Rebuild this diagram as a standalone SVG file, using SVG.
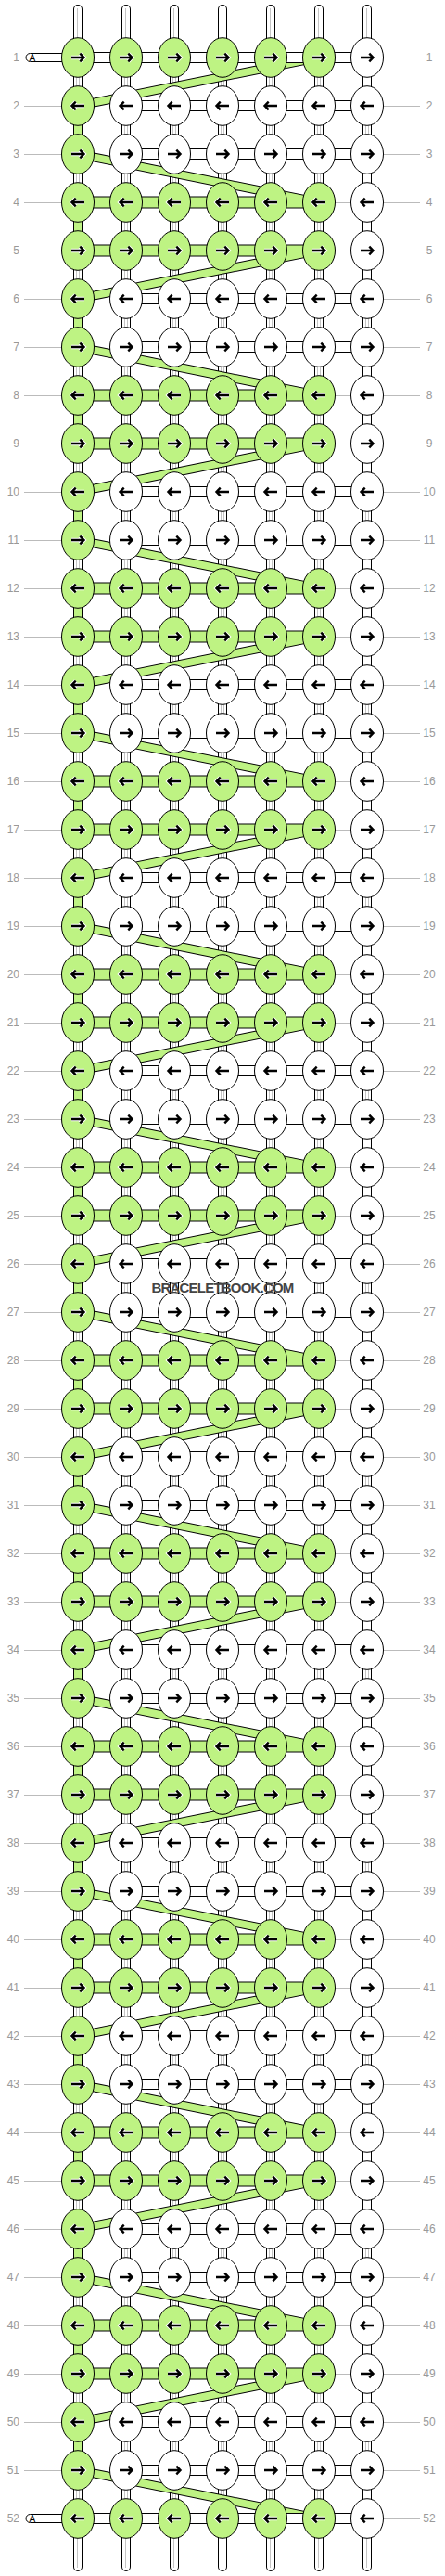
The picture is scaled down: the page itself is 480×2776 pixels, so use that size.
<svg xmlns="http://www.w3.org/2000/svg" xmlns:xlink="http://www.w3.org/1999/xlink" width="480" height="2776" viewBox="0 0 480 2776">
<style>
text{font-family:"Liberation Sans",Arial,sans-serif}
.ll{font-size:12px;fill:#999;text-anchor:end}
.lr{font-size:12px;fill:#999;text-anchor:middle}
.gl{stroke:#bbb;stroke-width:1;fill:none}
ellipse{rx:17.5px;ry:21.3px;stroke:#000;stroke-width:1}
.g{fill:#bef383}
.w{fill:#fff}
.ah{fill:none;stroke:#fff;stroke-width:4.4}
.ab{fill:none;stroke:#000;stroke-width:2.4}
.tb{stroke:#000;stroke-width:10;stroke-linecap:round}
.tw{stroke:#fff;stroke-width:8;stroke-linecap:round}
.dl{stroke:#c4c4c4;stroke-width:1;fill:none}
.hc{fill:#fff;stroke:#000;stroke-width:1}
.gb{stroke:#000;stroke-width:10;stroke-dasharray:24 80}
.gf{stroke:#bef383;stroke-width:8;stroke-dasharray:24 80}
.wm{font-size:15px;font-weight:bold;fill:#444;text-anchor:middle;letter-spacing:-0.8px}
.at{font-size:10px;fill:#000}
</style>
<defs>
<path id="ap" d="M-7,0H6M2.3,-4.3L6.5,0L2.3,4.3"/>
<g id="R"><use href="#ap" class="ah"/><use href="#ap" class="ab"/></g>
<g id="L" transform="scale(-1,1)"><use href="#ap" class="ah"/><use href="#ap" class="ab"/></g>
<polygon id="b1" points="344,-4 344,4 84,56 84,48"/>
<polygon id="b2" points="84,-4 84,4 344,56 344,48"/>
<rect id="gr" x="84" y="-5.5" width="260" height="11"/>
<g id="GS">
<use href="#b1" y="62"/><use href="#b1" y="270"/><use href="#b1" y="478"/><use href="#b1" y="686"/><use href="#b1" y="894"/><use href="#b1" y="1102"/><use href="#b1" y="1310"/><use href="#b1" y="1518"/><use href="#b1" y="1726"/><use href="#b1" y="1934"/><use href="#b1" y="2142"/><use href="#b1" y="2350"/><use href="#b1" y="2558"/>
<use href="#b2" y="166"/><use href="#b2" y="374"/><use href="#b2" y="582"/><use href="#b2" y="790"/><use href="#b2" y="998"/><use href="#b2" y="1206"/><use href="#b2" y="1414"/><use href="#b2" y="1622"/><use href="#b2" y="1830"/><use href="#b2" y="2038"/><use href="#b2" y="2246"/><use href="#b2" y="2454"/><use href="#b2" y="2662"/>
<use href="#gr" y="218"/><use href="#gr" y="270"/><use href="#gr" y="426"/><use href="#gr" y="478"/><use href="#gr" y="634"/><use href="#gr" y="686"/><use href="#gr" y="842"/><use href="#gr" y="894"/><use href="#gr" y="1050"/><use href="#gr" y="1102"/><use href="#gr" y="1258"/><use href="#gr" y="1310"/><use href="#gr" y="1466"/><use href="#gr" y="1518"/><use href="#gr" y="1674"/><use href="#gr" y="1726"/><use href="#gr" y="1882"/><use href="#gr" y="1934"/><use href="#gr" y="2090"/><use href="#gr" y="2142"/><use href="#gr" y="2298"/><use href="#gr" y="2350"/><use href="#gr" y="2506"/><use href="#gr" y="2558"/>
</g>
</defs>
<rect width="480" height="2776" fill="#fff"/>
<g id="connectors">
<g id="threads">
<line class="tb" x1="84" y1="10" x2="84" y2="2766"/><line class="tw" x1="84" y1="10" x2="84" y2="2766"/>
<line class="tb" x1="136" y1="10" x2="136" y2="2766"/><line class="tw" x1="136" y1="10" x2="136" y2="2766"/>
<line class="tb" x1="188" y1="10" x2="188" y2="2766"/><line class="tw" x1="188" y1="10" x2="188" y2="2766"/>
<line class="tb" x1="240" y1="10" x2="240" y2="2766"/><line class="tw" x1="240" y1="10" x2="240" y2="2766"/>
<line class="tb" x1="292" y1="10" x2="292" y2="2766"/><line class="tw" x1="292" y1="10" x2="292" y2="2766"/>
<line class="tb" x1="344" y1="10" x2="344" y2="2766"/><line class="tw" x1="344" y1="10" x2="344" y2="2766"/>
<line class="tb" x1="396" y1="10" x2="396" y2="2766"/><line class="tw" x1="396" y1="10" x2="396" y2="2766"/>
<path class="dl" d="M83.5,9V42M83.5,2734V2767M135.5,9V42M135.5,2734V2767M187.5,9V42M187.5,2734V2767M239.5,9V42M239.5,2734V2767M291.5,9V42M291.5,2734V2767M343.5,9V42M343.5,2734V2767M395.5,9V42M395.5,2734V2767"/>
<path class="dl" d="M134.5,44V2732M137.5,44V2732M186.5,44V2732M189.5,44V2732M238.5,44V2732M241.5,44V2732M290.5,44V2732M293.5,44V2732M342.5,44V2732M345.5,44V2732"/>
<path class="dl" stroke-dasharray="24 80" d="M82.5,76V2700"/>
<path class="dl" stroke-dasharray="24 80" d="M85.5,76V2700"/>
<path class="dl" stroke-dasharray="24 184" d="M394.5,128V2648"/>
<path class="dl" stroke-dasharray="24 184" d="M397.5,128V2648"/>
<line class="gb" x1="84" y1="128" x2="84" y2="2648"/>
<line class="gf" x1="84" y1="128" x2="84" y2="2648"/>
</g>
<g id="stubA">
<path class="hc" d="M70,57.5H32.5a4.5,4.5 0 0 0 0,9H70z"/>
<path class="hc" d="M70,2709.5H32.5a4.5,4.5 0 0 0 0,9H70z"/>
<text class="at" x="31.5" y="66">A</text>
<text class="at" x="31.5" y="2718">A</text>
</g>
<g id="green">
<use href="#GS" fill="#000" stroke="#000" stroke-width="2"/>
<use href="#GS" class="g"/>
</g>
<g id="hconn">
<rect class="hc" x="84" y="56.5" width="312" height="11"/>
<rect class="hc" x="84" y="2708.5" width="312" height="11"/>
<rect class="hc" x="136" y="108.5" width="260" height="11"/><rect class="hc" x="136" y="160.5" width="260" height="11"/>
<rect class="hc" x="136" y="316.5" width="260" height="11"/><rect class="hc" x="136" y="368.5" width="260" height="11"/>
<rect class="hc" x="136" y="524.5" width="260" height="11"/><rect class="hc" x="136" y="576.5" width="260" height="11"/>
<rect class="hc" x="136" y="732.5" width="260" height="11"/><rect class="hc" x="136" y="784.5" width="260" height="11"/>
<rect class="hc" x="136" y="940.5" width="260" height="11"/><rect class="hc" x="136" y="992.5" width="260" height="11"/>
<rect class="hc" x="136" y="1148.5" width="260" height="11"/><rect class="hc" x="136" y="1200.5" width="260" height="11"/>
<rect class="hc" x="136" y="1356.5" width="260" height="11"/><rect class="hc" x="136" y="1408.5" width="260" height="11"/>
<rect class="hc" x="136" y="1564.5" width="260" height="11"/><rect class="hc" x="136" y="1616.5" width="260" height="11"/>
<rect class="hc" x="136" y="1772.5" width="260" height="11"/><rect class="hc" x="136" y="1824.5" width="260" height="11"/>
<rect class="hc" x="136" y="1980.5" width="260" height="11"/><rect class="hc" x="136" y="2032.5" width="260" height="11"/>
<rect class="hc" x="136" y="2188.5" width="260" height="11"/><rect class="hc" x="136" y="2240.5" width="260" height="11"/>
<rect class="hc" x="136" y="2396.5" width="260" height="11"/><rect class="hc" x="136" y="2448.5" width="260" height="11"/>
<rect class="hc" x="136" y="2604.5" width="260" height="11"/><rect class="hc" x="136" y="2656.5" width="260" height="11"/>
</g>
</g>
<g id="nodes">
<g id="r1" transform="translate(0,62)"><path class="gl" d="M414,.5h39"/><text class="ll" x="21" y="4">1</text><text class="lr" x="463" y="4">1</text>
<g id="k1-1"><ellipse class="g" cx="84"/><use href="#R" x="84"/></g><g id="k1-2"><ellipse class="g" cx="136"/><use href="#R" x="136"/></g><g id="k1-3"><ellipse class="g" cx="188"/><use href="#R" x="188"/></g><g id="k1-4"><ellipse class="g" cx="240"/><use href="#R" x="240"/></g><g id="k1-5"><ellipse class="g" cx="292"/><use href="#R" x="292"/></g><g id="k1-6"><ellipse class="g" cx="344"/><use href="#R" x="344"/></g><g id="k1-7"><ellipse class="w" cx="396"/><use href="#R" x="396"/></g></g>
<g id="r2" transform="translate(0,114)"><path class="gl" d="M26,.5h40M414,.5h39"/><text class="ll" x="21" y="4">2</text><text class="lr" x="463" y="4">2</text>
<g id="k2-1"><ellipse class="g" cx="84"/><use href="#L" x="84"/></g><g id="k2-2"><ellipse class="w" cx="136"/><use href="#L" x="136"/></g><g id="k2-3"><ellipse class="w" cx="188"/><use href="#L" x="188"/></g><g id="k2-4"><ellipse class="w" cx="240"/><use href="#L" x="240"/></g><g id="k2-5"><ellipse class="w" cx="292"/><use href="#L" x="292"/></g><g id="k2-6"><ellipse class="w" cx="344"/><use href="#L" x="344"/></g><g id="k2-7"><ellipse class="w" cx="396"/><use href="#L" x="396"/></g></g>
<g id="r3" transform="translate(0,166)"><path class="gl" d="M26,.5h40M414,.5h39"/><text class="ll" x="21" y="4">3</text><text class="lr" x="463" y="4">3</text>
<g id="k3-1"><ellipse class="g" cx="84"/><use href="#R" x="84"/></g><g id="k3-2"><ellipse class="w" cx="136"/><use href="#R" x="136"/></g><g id="k3-3"><ellipse class="w" cx="188"/><use href="#R" x="188"/></g><g id="k3-4"><ellipse class="w" cx="240"/><use href="#R" x="240"/></g><g id="k3-5"><ellipse class="w" cx="292"/><use href="#R" x="292"/></g><g id="k3-6"><ellipse class="w" cx="344"/><use href="#R" x="344"/></g><g id="k3-7"><ellipse class="w" cx="396"/><use href="#R" x="396"/></g></g>
<g id="r4" transform="translate(0,218)"><path class="gl" d="M26,.5h40M361,.5h18M414,.5h39"/><text class="ll" x="21" y="4">4</text><text class="lr" x="463" y="4">4</text>
<g id="k4-1"><ellipse class="g" cx="84"/><use href="#L" x="84"/></g><g id="k4-2"><ellipse class="g" cx="136"/><use href="#L" x="136"/></g><g id="k4-3"><ellipse class="g" cx="188"/><use href="#L" x="188"/></g><g id="k4-4"><ellipse class="g" cx="240"/><use href="#L" x="240"/></g><g id="k4-5"><ellipse class="g" cx="292"/><use href="#L" x="292"/></g><g id="k4-6"><ellipse class="g" cx="344"/><use href="#L" x="344"/></g><g id="k4-7"><ellipse class="w" cx="396"/><use href="#L" x="396"/></g></g>
<g id="r5" transform="translate(0,270)"><path class="gl" d="M26,.5h40M361,.5h18M414,.5h39"/><text class="ll" x="21" y="4">5</text><text class="lr" x="463" y="4">5</text>
<g id="k5-1"><ellipse class="g" cx="84"/><use href="#R" x="84"/></g><g id="k5-2"><ellipse class="g" cx="136"/><use href="#R" x="136"/></g><g id="k5-3"><ellipse class="g" cx="188"/><use href="#R" x="188"/></g><g id="k5-4"><ellipse class="g" cx="240"/><use href="#R" x="240"/></g><g id="k5-5"><ellipse class="g" cx="292"/><use href="#R" x="292"/></g><g id="k5-6"><ellipse class="g" cx="344"/><use href="#R" x="344"/></g><g id="k5-7"><ellipse class="w" cx="396"/><use href="#R" x="396"/></g></g>
<g id="r6" transform="translate(0,322)"><path class="gl" d="M26,.5h40M414,.5h39"/><text class="ll" x="21" y="4">6</text><text class="lr" x="463" y="4">6</text>
<g id="k6-1"><ellipse class="g" cx="84"/><use href="#L" x="84"/></g><g id="k6-2"><ellipse class="w" cx="136"/><use href="#L" x="136"/></g><g id="k6-3"><ellipse class="w" cx="188"/><use href="#L" x="188"/></g><g id="k6-4"><ellipse class="w" cx="240"/><use href="#L" x="240"/></g><g id="k6-5"><ellipse class="w" cx="292"/><use href="#L" x="292"/></g><g id="k6-6"><ellipse class="w" cx="344"/><use href="#L" x="344"/></g><g id="k6-7"><ellipse class="w" cx="396"/><use href="#L" x="396"/></g></g>
<g id="r7" transform="translate(0,374)"><path class="gl" d="M26,.5h40M414,.5h39"/><text class="ll" x="21" y="4">7</text><text class="lr" x="463" y="4">7</text>
<g id="k7-1"><ellipse class="g" cx="84"/><use href="#R" x="84"/></g><g id="k7-2"><ellipse class="w" cx="136"/><use href="#R" x="136"/></g><g id="k7-3"><ellipse class="w" cx="188"/><use href="#R" x="188"/></g><g id="k7-4"><ellipse class="w" cx="240"/><use href="#R" x="240"/></g><g id="k7-5"><ellipse class="w" cx="292"/><use href="#R" x="292"/></g><g id="k7-6"><ellipse class="w" cx="344"/><use href="#R" x="344"/></g><g id="k7-7"><ellipse class="w" cx="396"/><use href="#R" x="396"/></g></g>
<g id="r8" transform="translate(0,426)"><path class="gl" d="M26,.5h40M361,.5h18M414,.5h39"/><text class="ll" x="21" y="4">8</text><text class="lr" x="463" y="4">8</text>
<g id="k8-1"><ellipse class="g" cx="84"/><use href="#L" x="84"/></g><g id="k8-2"><ellipse class="g" cx="136"/><use href="#L" x="136"/></g><g id="k8-3"><ellipse class="g" cx="188"/><use href="#L" x="188"/></g><g id="k8-4"><ellipse class="g" cx="240"/><use href="#L" x="240"/></g><g id="k8-5"><ellipse class="g" cx="292"/><use href="#L" x="292"/></g><g id="k8-6"><ellipse class="g" cx="344"/><use href="#L" x="344"/></g><g id="k8-7"><ellipse class="w" cx="396"/><use href="#L" x="396"/></g></g>
<g id="r9" transform="translate(0,478)"><path class="gl" d="M26,.5h40M361,.5h18M414,.5h39"/><text class="ll" x="21" y="4">9</text><text class="lr" x="463" y="4">9</text>
<g id="k9-1"><ellipse class="g" cx="84"/><use href="#R" x="84"/></g><g id="k9-2"><ellipse class="g" cx="136"/><use href="#R" x="136"/></g><g id="k9-3"><ellipse class="g" cx="188"/><use href="#R" x="188"/></g><g id="k9-4"><ellipse class="g" cx="240"/><use href="#R" x="240"/></g><g id="k9-5"><ellipse class="g" cx="292"/><use href="#R" x="292"/></g><g id="k9-6"><ellipse class="g" cx="344"/><use href="#R" x="344"/></g><g id="k9-7"><ellipse class="w" cx="396"/><use href="#R" x="396"/></g></g>
<g id="r10" transform="translate(0,530)"><path class="gl" d="M26,.5h40M414,.5h39"/><text class="ll" x="21" y="4">10</text><text class="lr" x="463" y="4">10</text>
<g id="k10-1"><ellipse class="g" cx="84"/><use href="#L" x="84"/></g><g id="k10-2"><ellipse class="w" cx="136"/><use href="#L" x="136"/></g><g id="k10-3"><ellipse class="w" cx="188"/><use href="#L" x="188"/></g><g id="k10-4"><ellipse class="w" cx="240"/><use href="#L" x="240"/></g><g id="k10-5"><ellipse class="w" cx="292"/><use href="#L" x="292"/></g><g id="k10-6"><ellipse class="w" cx="344"/><use href="#L" x="344"/></g><g id="k10-7"><ellipse class="w" cx="396"/><use href="#L" x="396"/></g></g>
<g id="r11" transform="translate(0,582)"><path class="gl" d="M26,.5h40M414,.5h39"/><text class="ll" x="21" y="4">11</text><text class="lr" x="463" y="4">11</text>
<g id="k11-1"><ellipse class="g" cx="84"/><use href="#R" x="84"/></g><g id="k11-2"><ellipse class="w" cx="136"/><use href="#R" x="136"/></g><g id="k11-3"><ellipse class="w" cx="188"/><use href="#R" x="188"/></g><g id="k11-4"><ellipse class="w" cx="240"/><use href="#R" x="240"/></g><g id="k11-5"><ellipse class="w" cx="292"/><use href="#R" x="292"/></g><g id="k11-6"><ellipse class="w" cx="344"/><use href="#R" x="344"/></g><g id="k11-7"><ellipse class="w" cx="396"/><use href="#R" x="396"/></g></g>
<g id="r12" transform="translate(0,634)"><path class="gl" d="M26,.5h40M361,.5h18M414,.5h39"/><text class="ll" x="21" y="4">12</text><text class="lr" x="463" y="4">12</text>
<g id="k12-1"><ellipse class="g" cx="84"/><use href="#L" x="84"/></g><g id="k12-2"><ellipse class="g" cx="136"/><use href="#L" x="136"/></g><g id="k12-3"><ellipse class="g" cx="188"/><use href="#L" x="188"/></g><g id="k12-4"><ellipse class="g" cx="240"/><use href="#L" x="240"/></g><g id="k12-5"><ellipse class="g" cx="292"/><use href="#L" x="292"/></g><g id="k12-6"><ellipse class="g" cx="344"/><use href="#L" x="344"/></g><g id="k12-7"><ellipse class="w" cx="396"/><use href="#L" x="396"/></g></g>
<g id="r13" transform="translate(0,686)"><path class="gl" d="M26,.5h40M361,.5h18M414,.5h39"/><text class="ll" x="21" y="4">13</text><text class="lr" x="463" y="4">13</text>
<g id="k13-1"><ellipse class="g" cx="84"/><use href="#R" x="84"/></g><g id="k13-2"><ellipse class="g" cx="136"/><use href="#R" x="136"/></g><g id="k13-3"><ellipse class="g" cx="188"/><use href="#R" x="188"/></g><g id="k13-4"><ellipse class="g" cx="240"/><use href="#R" x="240"/></g><g id="k13-5"><ellipse class="g" cx="292"/><use href="#R" x="292"/></g><g id="k13-6"><ellipse class="g" cx="344"/><use href="#R" x="344"/></g><g id="k13-7"><ellipse class="w" cx="396"/><use href="#R" x="396"/></g></g>
<g id="r14" transform="translate(0,738)"><path class="gl" d="M26,.5h40M414,.5h39"/><text class="ll" x="21" y="4">14</text><text class="lr" x="463" y="4">14</text>
<g id="k14-1"><ellipse class="g" cx="84"/><use href="#L" x="84"/></g><g id="k14-2"><ellipse class="w" cx="136"/><use href="#L" x="136"/></g><g id="k14-3"><ellipse class="w" cx="188"/><use href="#L" x="188"/></g><g id="k14-4"><ellipse class="w" cx="240"/><use href="#L" x="240"/></g><g id="k14-5"><ellipse class="w" cx="292"/><use href="#L" x="292"/></g><g id="k14-6"><ellipse class="w" cx="344"/><use href="#L" x="344"/></g><g id="k14-7"><ellipse class="w" cx="396"/><use href="#L" x="396"/></g></g>
<g id="r15" transform="translate(0,790)"><path class="gl" d="M26,.5h40M414,.5h39"/><text class="ll" x="21" y="4">15</text><text class="lr" x="463" y="4">15</text>
<g id="k15-1"><ellipse class="g" cx="84"/><use href="#R" x="84"/></g><g id="k15-2"><ellipse class="w" cx="136"/><use href="#R" x="136"/></g><g id="k15-3"><ellipse class="w" cx="188"/><use href="#R" x="188"/></g><g id="k15-4"><ellipse class="w" cx="240"/><use href="#R" x="240"/></g><g id="k15-5"><ellipse class="w" cx="292"/><use href="#R" x="292"/></g><g id="k15-6"><ellipse class="w" cx="344"/><use href="#R" x="344"/></g><g id="k15-7"><ellipse class="w" cx="396"/><use href="#R" x="396"/></g></g>
<g id="r16" transform="translate(0,842)"><path class="gl" d="M26,.5h40M361,.5h18M414,.5h39"/><text class="ll" x="21" y="4">16</text><text class="lr" x="463" y="4">16</text>
<g id="k16-1"><ellipse class="g" cx="84"/><use href="#L" x="84"/></g><g id="k16-2"><ellipse class="g" cx="136"/><use href="#L" x="136"/></g><g id="k16-3"><ellipse class="g" cx="188"/><use href="#L" x="188"/></g><g id="k16-4"><ellipse class="g" cx="240"/><use href="#L" x="240"/></g><g id="k16-5"><ellipse class="g" cx="292"/><use href="#L" x="292"/></g><g id="k16-6"><ellipse class="g" cx="344"/><use href="#L" x="344"/></g><g id="k16-7"><ellipse class="w" cx="396"/><use href="#L" x="396"/></g></g>
<g id="r17" transform="translate(0,894)"><path class="gl" d="M26,.5h40M361,.5h18M414,.5h39"/><text class="ll" x="21" y="4">17</text><text class="lr" x="463" y="4">17</text>
<g id="k17-1"><ellipse class="g" cx="84"/><use href="#R" x="84"/></g><g id="k17-2"><ellipse class="g" cx="136"/><use href="#R" x="136"/></g><g id="k17-3"><ellipse class="g" cx="188"/><use href="#R" x="188"/></g><g id="k17-4"><ellipse class="g" cx="240"/><use href="#R" x="240"/></g><g id="k17-5"><ellipse class="g" cx="292"/><use href="#R" x="292"/></g><g id="k17-6"><ellipse class="g" cx="344"/><use href="#R" x="344"/></g><g id="k17-7"><ellipse class="w" cx="396"/><use href="#R" x="396"/></g></g>
<g id="r18" transform="translate(0,946)"><path class="gl" d="M26,.5h40M414,.5h39"/><text class="ll" x="21" y="4">18</text><text class="lr" x="463" y="4">18</text>
<g id="k18-1"><ellipse class="g" cx="84"/><use href="#L" x="84"/></g><g id="k18-2"><ellipse class="w" cx="136"/><use href="#L" x="136"/></g><g id="k18-3"><ellipse class="w" cx="188"/><use href="#L" x="188"/></g><g id="k18-4"><ellipse class="w" cx="240"/><use href="#L" x="240"/></g><g id="k18-5"><ellipse class="w" cx="292"/><use href="#L" x="292"/></g><g id="k18-6"><ellipse class="w" cx="344"/><use href="#L" x="344"/></g><g id="k18-7"><ellipse class="w" cx="396"/><use href="#L" x="396"/></g></g>
<g id="r19" transform="translate(0,998)"><path class="gl" d="M26,.5h40M414,.5h39"/><text class="ll" x="21" y="4">19</text><text class="lr" x="463" y="4">19</text>
<g id="k19-1"><ellipse class="g" cx="84"/><use href="#R" x="84"/></g><g id="k19-2"><ellipse class="w" cx="136"/><use href="#R" x="136"/></g><g id="k19-3"><ellipse class="w" cx="188"/><use href="#R" x="188"/></g><g id="k19-4"><ellipse class="w" cx="240"/><use href="#R" x="240"/></g><g id="k19-5"><ellipse class="w" cx="292"/><use href="#R" x="292"/></g><g id="k19-6"><ellipse class="w" cx="344"/><use href="#R" x="344"/></g><g id="k19-7"><ellipse class="w" cx="396"/><use href="#R" x="396"/></g></g>
<g id="r20" transform="translate(0,1050)"><path class="gl" d="M26,.5h40M361,.5h18M414,.5h39"/><text class="ll" x="21" y="4">20</text><text class="lr" x="463" y="4">20</text>
<g id="k20-1"><ellipse class="g" cx="84"/><use href="#L" x="84"/></g><g id="k20-2"><ellipse class="g" cx="136"/><use href="#L" x="136"/></g><g id="k20-3"><ellipse class="g" cx="188"/><use href="#L" x="188"/></g><g id="k20-4"><ellipse class="g" cx="240"/><use href="#L" x="240"/></g><g id="k20-5"><ellipse class="g" cx="292"/><use href="#L" x="292"/></g><g id="k20-6"><ellipse class="g" cx="344"/><use href="#L" x="344"/></g><g id="k20-7"><ellipse class="w" cx="396"/><use href="#L" x="396"/></g></g>
<g id="r21" transform="translate(0,1102)"><path class="gl" d="M26,.5h40M361,.5h18M414,.5h39"/><text class="ll" x="21" y="4">21</text><text class="lr" x="463" y="4">21</text>
<g id="k21-1"><ellipse class="g" cx="84"/><use href="#R" x="84"/></g><g id="k21-2"><ellipse class="g" cx="136"/><use href="#R" x="136"/></g><g id="k21-3"><ellipse class="g" cx="188"/><use href="#R" x="188"/></g><g id="k21-4"><ellipse class="g" cx="240"/><use href="#R" x="240"/></g><g id="k21-5"><ellipse class="g" cx="292"/><use href="#R" x="292"/></g><g id="k21-6"><ellipse class="g" cx="344"/><use href="#R" x="344"/></g><g id="k21-7"><ellipse class="w" cx="396"/><use href="#R" x="396"/></g></g>
<g id="r22" transform="translate(0,1154)"><path class="gl" d="M26,.5h40M414,.5h39"/><text class="ll" x="21" y="4">22</text><text class="lr" x="463" y="4">22</text>
<g id="k22-1"><ellipse class="g" cx="84"/><use href="#L" x="84"/></g><g id="k22-2"><ellipse class="w" cx="136"/><use href="#L" x="136"/></g><g id="k22-3"><ellipse class="w" cx="188"/><use href="#L" x="188"/></g><g id="k22-4"><ellipse class="w" cx="240"/><use href="#L" x="240"/></g><g id="k22-5"><ellipse class="w" cx="292"/><use href="#L" x="292"/></g><g id="k22-6"><ellipse class="w" cx="344"/><use href="#L" x="344"/></g><g id="k22-7"><ellipse class="w" cx="396"/><use href="#L" x="396"/></g></g>
<g id="r23" transform="translate(0,1206)"><path class="gl" d="M26,.5h40M414,.5h39"/><text class="ll" x="21" y="4">23</text><text class="lr" x="463" y="4">23</text>
<g id="k23-1"><ellipse class="g" cx="84"/><use href="#R" x="84"/></g><g id="k23-2"><ellipse class="w" cx="136"/><use href="#R" x="136"/></g><g id="k23-3"><ellipse class="w" cx="188"/><use href="#R" x="188"/></g><g id="k23-4"><ellipse class="w" cx="240"/><use href="#R" x="240"/></g><g id="k23-5"><ellipse class="w" cx="292"/><use href="#R" x="292"/></g><g id="k23-6"><ellipse class="w" cx="344"/><use href="#R" x="344"/></g><g id="k23-7"><ellipse class="w" cx="396"/><use href="#R" x="396"/></g></g>
<g id="r24" transform="translate(0,1258)"><path class="gl" d="M26,.5h40M361,.5h18M414,.5h39"/><text class="ll" x="21" y="4">24</text><text class="lr" x="463" y="4">24</text>
<g id="k24-1"><ellipse class="g" cx="84"/><use href="#L" x="84"/></g><g id="k24-2"><ellipse class="g" cx="136"/><use href="#L" x="136"/></g><g id="k24-3"><ellipse class="g" cx="188"/><use href="#L" x="188"/></g><g id="k24-4"><ellipse class="g" cx="240"/><use href="#L" x="240"/></g><g id="k24-5"><ellipse class="g" cx="292"/><use href="#L" x="292"/></g><g id="k24-6"><ellipse class="g" cx="344"/><use href="#L" x="344"/></g><g id="k24-7"><ellipse class="w" cx="396"/><use href="#L" x="396"/></g></g>
<g id="r25" transform="translate(0,1310)"><path class="gl" d="M26,.5h40M361,.5h18M414,.5h39"/><text class="ll" x="21" y="4">25</text><text class="lr" x="463" y="4">25</text>
<g id="k25-1"><ellipse class="g" cx="84"/><use href="#R" x="84"/></g><g id="k25-2"><ellipse class="g" cx="136"/><use href="#R" x="136"/></g><g id="k25-3"><ellipse class="g" cx="188"/><use href="#R" x="188"/></g><g id="k25-4"><ellipse class="g" cx="240"/><use href="#R" x="240"/></g><g id="k25-5"><ellipse class="g" cx="292"/><use href="#R" x="292"/></g><g id="k25-6"><ellipse class="g" cx="344"/><use href="#R" x="344"/></g><g id="k25-7"><ellipse class="w" cx="396"/><use href="#R" x="396"/></g></g>
<g id="r26" transform="translate(0,1362)"><path class="gl" d="M26,.5h40M414,.5h39"/><text class="ll" x="21" y="4">26</text><text class="lr" x="463" y="4">26</text>
<g id="k26-1"><ellipse class="g" cx="84"/><use href="#L" x="84"/></g><g id="k26-2"><ellipse class="w" cx="136"/><use href="#L" x="136"/></g><g id="k26-3"><ellipse class="w" cx="188"/><use href="#L" x="188"/></g><g id="k26-4"><ellipse class="w" cx="240"/><use href="#L" x="240"/></g><g id="k26-5"><ellipse class="w" cx="292"/><use href="#L" x="292"/></g><g id="k26-6"><ellipse class="w" cx="344"/><use href="#L" x="344"/></g><g id="k26-7"><ellipse class="w" cx="396"/><use href="#L" x="396"/></g></g>
<g id="r27" transform="translate(0,1414)"><path class="gl" d="M26,.5h40M414,.5h39"/><text class="ll" x="21" y="4">27</text><text class="lr" x="463" y="4">27</text>
<g id="k27-1"><ellipse class="g" cx="84"/><use href="#R" x="84"/></g><g id="k27-2"><ellipse class="w" cx="136"/><use href="#R" x="136"/></g><g id="k27-3"><ellipse class="w" cx="188"/><use href="#R" x="188"/></g><g id="k27-4"><ellipse class="w" cx="240"/><use href="#R" x="240"/></g><g id="k27-5"><ellipse class="w" cx="292"/><use href="#R" x="292"/></g><g id="k27-6"><ellipse class="w" cx="344"/><use href="#R" x="344"/></g><g id="k27-7"><ellipse class="w" cx="396"/><use href="#R" x="396"/></g></g>
<g id="r28" transform="translate(0,1466)"><path class="gl" d="M26,.5h40M361,.5h18M414,.5h39"/><text class="ll" x="21" y="4">28</text><text class="lr" x="463" y="4">28</text>
<g id="k28-1"><ellipse class="g" cx="84"/><use href="#L" x="84"/></g><g id="k28-2"><ellipse class="g" cx="136"/><use href="#L" x="136"/></g><g id="k28-3"><ellipse class="g" cx="188"/><use href="#L" x="188"/></g><g id="k28-4"><ellipse class="g" cx="240"/><use href="#L" x="240"/></g><g id="k28-5"><ellipse class="g" cx="292"/><use href="#L" x="292"/></g><g id="k28-6"><ellipse class="g" cx="344"/><use href="#L" x="344"/></g><g id="k28-7"><ellipse class="w" cx="396"/><use href="#L" x="396"/></g></g>
<g id="r29" transform="translate(0,1518)"><path class="gl" d="M26,.5h40M361,.5h18M414,.5h39"/><text class="ll" x="21" y="4">29</text><text class="lr" x="463" y="4">29</text>
<g id="k29-1"><ellipse class="g" cx="84"/><use href="#R" x="84"/></g><g id="k29-2"><ellipse class="g" cx="136"/><use href="#R" x="136"/></g><g id="k29-3"><ellipse class="g" cx="188"/><use href="#R" x="188"/></g><g id="k29-4"><ellipse class="g" cx="240"/><use href="#R" x="240"/></g><g id="k29-5"><ellipse class="g" cx="292"/><use href="#R" x="292"/></g><g id="k29-6"><ellipse class="g" cx="344"/><use href="#R" x="344"/></g><g id="k29-7"><ellipse class="w" cx="396"/><use href="#R" x="396"/></g></g>
<g id="r30" transform="translate(0,1570)"><path class="gl" d="M26,.5h40M414,.5h39"/><text class="ll" x="21" y="4">30</text><text class="lr" x="463" y="4">30</text>
<g id="k30-1"><ellipse class="g" cx="84"/><use href="#L" x="84"/></g><g id="k30-2"><ellipse class="w" cx="136"/><use href="#L" x="136"/></g><g id="k30-3"><ellipse class="w" cx="188"/><use href="#L" x="188"/></g><g id="k30-4"><ellipse class="w" cx="240"/><use href="#L" x="240"/></g><g id="k30-5"><ellipse class="w" cx="292"/><use href="#L" x="292"/></g><g id="k30-6"><ellipse class="w" cx="344"/><use href="#L" x="344"/></g><g id="k30-7"><ellipse class="w" cx="396"/><use href="#L" x="396"/></g></g>
<g id="r31" transform="translate(0,1622)"><path class="gl" d="M26,.5h40M414,.5h39"/><text class="ll" x="21" y="4">31</text><text class="lr" x="463" y="4">31</text>
<g id="k31-1"><ellipse class="g" cx="84"/><use href="#R" x="84"/></g><g id="k31-2"><ellipse class="w" cx="136"/><use href="#R" x="136"/></g><g id="k31-3"><ellipse class="w" cx="188"/><use href="#R" x="188"/></g><g id="k31-4"><ellipse class="w" cx="240"/><use href="#R" x="240"/></g><g id="k31-5"><ellipse class="w" cx="292"/><use href="#R" x="292"/></g><g id="k31-6"><ellipse class="w" cx="344"/><use href="#R" x="344"/></g><g id="k31-7"><ellipse class="w" cx="396"/><use href="#R" x="396"/></g></g>
<g id="r32" transform="translate(0,1674)"><path class="gl" d="M26,.5h40M361,.5h18M414,.5h39"/><text class="ll" x="21" y="4">32</text><text class="lr" x="463" y="4">32</text>
<g id="k32-1"><ellipse class="g" cx="84"/><use href="#L" x="84"/></g><g id="k32-2"><ellipse class="g" cx="136"/><use href="#L" x="136"/></g><g id="k32-3"><ellipse class="g" cx="188"/><use href="#L" x="188"/></g><g id="k32-4"><ellipse class="g" cx="240"/><use href="#L" x="240"/></g><g id="k32-5"><ellipse class="g" cx="292"/><use href="#L" x="292"/></g><g id="k32-6"><ellipse class="g" cx="344"/><use href="#L" x="344"/></g><g id="k32-7"><ellipse class="w" cx="396"/><use href="#L" x="396"/></g></g>
<g id="r33" transform="translate(0,1726)"><path class="gl" d="M26,.5h40M361,.5h18M414,.5h39"/><text class="ll" x="21" y="4">33</text><text class="lr" x="463" y="4">33</text>
<g id="k33-1"><ellipse class="g" cx="84"/><use href="#R" x="84"/></g><g id="k33-2"><ellipse class="g" cx="136"/><use href="#R" x="136"/></g><g id="k33-3"><ellipse class="g" cx="188"/><use href="#R" x="188"/></g><g id="k33-4"><ellipse class="g" cx="240"/><use href="#R" x="240"/></g><g id="k33-5"><ellipse class="g" cx="292"/><use href="#R" x="292"/></g><g id="k33-6"><ellipse class="g" cx="344"/><use href="#R" x="344"/></g><g id="k33-7"><ellipse class="w" cx="396"/><use href="#R" x="396"/></g></g>
<g id="r34" transform="translate(0,1778)"><path class="gl" d="M26,.5h40M414,.5h39"/><text class="ll" x="21" y="4">34</text><text class="lr" x="463" y="4">34</text>
<g id="k34-1"><ellipse class="g" cx="84"/><use href="#L" x="84"/></g><g id="k34-2"><ellipse class="w" cx="136"/><use href="#L" x="136"/></g><g id="k34-3"><ellipse class="w" cx="188"/><use href="#L" x="188"/></g><g id="k34-4"><ellipse class="w" cx="240"/><use href="#L" x="240"/></g><g id="k34-5"><ellipse class="w" cx="292"/><use href="#L" x="292"/></g><g id="k34-6"><ellipse class="w" cx="344"/><use href="#L" x="344"/></g><g id="k34-7"><ellipse class="w" cx="396"/><use href="#L" x="396"/></g></g>
<g id="r35" transform="translate(0,1830)"><path class="gl" d="M26,.5h40M414,.5h39"/><text class="ll" x="21" y="4">35</text><text class="lr" x="463" y="4">35</text>
<g id="k35-1"><ellipse class="g" cx="84"/><use href="#R" x="84"/></g><g id="k35-2"><ellipse class="w" cx="136"/><use href="#R" x="136"/></g><g id="k35-3"><ellipse class="w" cx="188"/><use href="#R" x="188"/></g><g id="k35-4"><ellipse class="w" cx="240"/><use href="#R" x="240"/></g><g id="k35-5"><ellipse class="w" cx="292"/><use href="#R" x="292"/></g><g id="k35-6"><ellipse class="w" cx="344"/><use href="#R" x="344"/></g><g id="k35-7"><ellipse class="w" cx="396"/><use href="#R" x="396"/></g></g>
<g id="r36" transform="translate(0,1882)"><path class="gl" d="M26,.5h40M361,.5h18M414,.5h39"/><text class="ll" x="21" y="4">36</text><text class="lr" x="463" y="4">36</text>
<g id="k36-1"><ellipse class="g" cx="84"/><use href="#L" x="84"/></g><g id="k36-2"><ellipse class="g" cx="136"/><use href="#L" x="136"/></g><g id="k36-3"><ellipse class="g" cx="188"/><use href="#L" x="188"/></g><g id="k36-4"><ellipse class="g" cx="240"/><use href="#L" x="240"/></g><g id="k36-5"><ellipse class="g" cx="292"/><use href="#L" x="292"/></g><g id="k36-6"><ellipse class="g" cx="344"/><use href="#L" x="344"/></g><g id="k36-7"><ellipse class="w" cx="396"/><use href="#L" x="396"/></g></g>
<g id="r37" transform="translate(0,1934)"><path class="gl" d="M26,.5h40M361,.5h18M414,.5h39"/><text class="ll" x="21" y="4">37</text><text class="lr" x="463" y="4">37</text>
<g id="k37-1"><ellipse class="g" cx="84"/><use href="#R" x="84"/></g><g id="k37-2"><ellipse class="g" cx="136"/><use href="#R" x="136"/></g><g id="k37-3"><ellipse class="g" cx="188"/><use href="#R" x="188"/></g><g id="k37-4"><ellipse class="g" cx="240"/><use href="#R" x="240"/></g><g id="k37-5"><ellipse class="g" cx="292"/><use href="#R" x="292"/></g><g id="k37-6"><ellipse class="g" cx="344"/><use href="#R" x="344"/></g><g id="k37-7"><ellipse class="w" cx="396"/><use href="#R" x="396"/></g></g>
<g id="r38" transform="translate(0,1986)"><path class="gl" d="M26,.5h40M414,.5h39"/><text class="ll" x="21" y="4">38</text><text class="lr" x="463" y="4">38</text>
<g id="k38-1"><ellipse class="g" cx="84"/><use href="#L" x="84"/></g><g id="k38-2"><ellipse class="w" cx="136"/><use href="#L" x="136"/></g><g id="k38-3"><ellipse class="w" cx="188"/><use href="#L" x="188"/></g><g id="k38-4"><ellipse class="w" cx="240"/><use href="#L" x="240"/></g><g id="k38-5"><ellipse class="w" cx="292"/><use href="#L" x="292"/></g><g id="k38-6"><ellipse class="w" cx="344"/><use href="#L" x="344"/></g><g id="k38-7"><ellipse class="w" cx="396"/><use href="#L" x="396"/></g></g>
<g id="r39" transform="translate(0,2038)"><path class="gl" d="M26,.5h40M414,.5h39"/><text class="ll" x="21" y="4">39</text><text class="lr" x="463" y="4">39</text>
<g id="k39-1"><ellipse class="g" cx="84"/><use href="#R" x="84"/></g><g id="k39-2"><ellipse class="w" cx="136"/><use href="#R" x="136"/></g><g id="k39-3"><ellipse class="w" cx="188"/><use href="#R" x="188"/></g><g id="k39-4"><ellipse class="w" cx="240"/><use href="#R" x="240"/></g><g id="k39-5"><ellipse class="w" cx="292"/><use href="#R" x="292"/></g><g id="k39-6"><ellipse class="w" cx="344"/><use href="#R" x="344"/></g><g id="k39-7"><ellipse class="w" cx="396"/><use href="#R" x="396"/></g></g>
<g id="r40" transform="translate(0,2090)"><path class="gl" d="M26,.5h40M361,.5h18M414,.5h39"/><text class="ll" x="21" y="4">40</text><text class="lr" x="463" y="4">40</text>
<g id="k40-1"><ellipse class="g" cx="84"/><use href="#L" x="84"/></g><g id="k40-2"><ellipse class="g" cx="136"/><use href="#L" x="136"/></g><g id="k40-3"><ellipse class="g" cx="188"/><use href="#L" x="188"/></g><g id="k40-4"><ellipse class="g" cx="240"/><use href="#L" x="240"/></g><g id="k40-5"><ellipse class="g" cx="292"/><use href="#L" x="292"/></g><g id="k40-6"><ellipse class="g" cx="344"/><use href="#L" x="344"/></g><g id="k40-7"><ellipse class="w" cx="396"/><use href="#L" x="396"/></g></g>
<g id="r41" transform="translate(0,2142)"><path class="gl" d="M26,.5h40M361,.5h18M414,.5h39"/><text class="ll" x="21" y="4">41</text><text class="lr" x="463" y="4">41</text>
<g id="k41-1"><ellipse class="g" cx="84"/><use href="#R" x="84"/></g><g id="k41-2"><ellipse class="g" cx="136"/><use href="#R" x="136"/></g><g id="k41-3"><ellipse class="g" cx="188"/><use href="#R" x="188"/></g><g id="k41-4"><ellipse class="g" cx="240"/><use href="#R" x="240"/></g><g id="k41-5"><ellipse class="g" cx="292"/><use href="#R" x="292"/></g><g id="k41-6"><ellipse class="g" cx="344"/><use href="#R" x="344"/></g><g id="k41-7"><ellipse class="w" cx="396"/><use href="#R" x="396"/></g></g>
<g id="r42" transform="translate(0,2194)"><path class="gl" d="M26,.5h40M414,.5h39"/><text class="ll" x="21" y="4">42</text><text class="lr" x="463" y="4">42</text>
<g id="k42-1"><ellipse class="g" cx="84"/><use href="#L" x="84"/></g><g id="k42-2"><ellipse class="w" cx="136"/><use href="#L" x="136"/></g><g id="k42-3"><ellipse class="w" cx="188"/><use href="#L" x="188"/></g><g id="k42-4"><ellipse class="w" cx="240"/><use href="#L" x="240"/></g><g id="k42-5"><ellipse class="w" cx="292"/><use href="#L" x="292"/></g><g id="k42-6"><ellipse class="w" cx="344"/><use href="#L" x="344"/></g><g id="k42-7"><ellipse class="w" cx="396"/><use href="#L" x="396"/></g></g>
<g id="r43" transform="translate(0,2246)"><path class="gl" d="M26,.5h40M414,.5h39"/><text class="ll" x="21" y="4">43</text><text class="lr" x="463" y="4">43</text>
<g id="k43-1"><ellipse class="g" cx="84"/><use href="#R" x="84"/></g><g id="k43-2"><ellipse class="w" cx="136"/><use href="#R" x="136"/></g><g id="k43-3"><ellipse class="w" cx="188"/><use href="#R" x="188"/></g><g id="k43-4"><ellipse class="w" cx="240"/><use href="#R" x="240"/></g><g id="k43-5"><ellipse class="w" cx="292"/><use href="#R" x="292"/></g><g id="k43-6"><ellipse class="w" cx="344"/><use href="#R" x="344"/></g><g id="k43-7"><ellipse class="w" cx="396"/><use href="#R" x="396"/></g></g>
<g id="r44" transform="translate(0,2298)"><path class="gl" d="M26,.5h40M361,.5h18M414,.5h39"/><text class="ll" x="21" y="4">44</text><text class="lr" x="463" y="4">44</text>
<g id="k44-1"><ellipse class="g" cx="84"/><use href="#L" x="84"/></g><g id="k44-2"><ellipse class="g" cx="136"/><use href="#L" x="136"/></g><g id="k44-3"><ellipse class="g" cx="188"/><use href="#L" x="188"/></g><g id="k44-4"><ellipse class="g" cx="240"/><use href="#L" x="240"/></g><g id="k44-5"><ellipse class="g" cx="292"/><use href="#L" x="292"/></g><g id="k44-6"><ellipse class="g" cx="344"/><use href="#L" x="344"/></g><g id="k44-7"><ellipse class="w" cx="396"/><use href="#L" x="396"/></g></g>
<g id="r45" transform="translate(0,2350)"><path class="gl" d="M26,.5h40M361,.5h18M414,.5h39"/><text class="ll" x="21" y="4">45</text><text class="lr" x="463" y="4">45</text>
<g id="k45-1"><ellipse class="g" cx="84"/><use href="#R" x="84"/></g><g id="k45-2"><ellipse class="g" cx="136"/><use href="#R" x="136"/></g><g id="k45-3"><ellipse class="g" cx="188"/><use href="#R" x="188"/></g><g id="k45-4"><ellipse class="g" cx="240"/><use href="#R" x="240"/></g><g id="k45-5"><ellipse class="g" cx="292"/><use href="#R" x="292"/></g><g id="k45-6"><ellipse class="g" cx="344"/><use href="#R" x="344"/></g><g id="k45-7"><ellipse class="w" cx="396"/><use href="#R" x="396"/></g></g>
<g id="r46" transform="translate(0,2402)"><path class="gl" d="M26,.5h40M414,.5h39"/><text class="ll" x="21" y="4">46</text><text class="lr" x="463" y="4">46</text>
<g id="k46-1"><ellipse class="g" cx="84"/><use href="#L" x="84"/></g><g id="k46-2"><ellipse class="w" cx="136"/><use href="#L" x="136"/></g><g id="k46-3"><ellipse class="w" cx="188"/><use href="#L" x="188"/></g><g id="k46-4"><ellipse class="w" cx="240"/><use href="#L" x="240"/></g><g id="k46-5"><ellipse class="w" cx="292"/><use href="#L" x="292"/></g><g id="k46-6"><ellipse class="w" cx="344"/><use href="#L" x="344"/></g><g id="k46-7"><ellipse class="w" cx="396"/><use href="#L" x="396"/></g></g>
<g id="r47" transform="translate(0,2454)"><path class="gl" d="M26,.5h40M414,.5h39"/><text class="ll" x="21" y="4">47</text><text class="lr" x="463" y="4">47</text>
<g id="k47-1"><ellipse class="g" cx="84"/><use href="#R" x="84"/></g><g id="k47-2"><ellipse class="w" cx="136"/><use href="#R" x="136"/></g><g id="k47-3"><ellipse class="w" cx="188"/><use href="#R" x="188"/></g><g id="k47-4"><ellipse class="w" cx="240"/><use href="#R" x="240"/></g><g id="k47-5"><ellipse class="w" cx="292"/><use href="#R" x="292"/></g><g id="k47-6"><ellipse class="w" cx="344"/><use href="#R" x="344"/></g><g id="k47-7"><ellipse class="w" cx="396"/><use href="#R" x="396"/></g></g>
<g id="r48" transform="translate(0,2506)"><path class="gl" d="M26,.5h40M361,.5h18M414,.5h39"/><text class="ll" x="21" y="4">48</text><text class="lr" x="463" y="4">48</text>
<g id="k48-1"><ellipse class="g" cx="84"/><use href="#L" x="84"/></g><g id="k48-2"><ellipse class="g" cx="136"/><use href="#L" x="136"/></g><g id="k48-3"><ellipse class="g" cx="188"/><use href="#L" x="188"/></g><g id="k48-4"><ellipse class="g" cx="240"/><use href="#L" x="240"/></g><g id="k48-5"><ellipse class="g" cx="292"/><use href="#L" x="292"/></g><g id="k48-6"><ellipse class="g" cx="344"/><use href="#L" x="344"/></g><g id="k48-7"><ellipse class="w" cx="396"/><use href="#L" x="396"/></g></g>
<g id="r49" transform="translate(0,2558)"><path class="gl" d="M26,.5h40M361,.5h18M414,.5h39"/><text class="ll" x="21" y="4">49</text><text class="lr" x="463" y="4">49</text>
<g id="k49-1"><ellipse class="g" cx="84"/><use href="#R" x="84"/></g><g id="k49-2"><ellipse class="g" cx="136"/><use href="#R" x="136"/></g><g id="k49-3"><ellipse class="g" cx="188"/><use href="#R" x="188"/></g><g id="k49-4"><ellipse class="g" cx="240"/><use href="#R" x="240"/></g><g id="k49-5"><ellipse class="g" cx="292"/><use href="#R" x="292"/></g><g id="k49-6"><ellipse class="g" cx="344"/><use href="#R" x="344"/></g><g id="k49-7"><ellipse class="w" cx="396"/><use href="#R" x="396"/></g></g>
<g id="r50" transform="translate(0,2610)"><path class="gl" d="M26,.5h40M414,.5h39"/><text class="ll" x="21" y="4">50</text><text class="lr" x="463" y="4">50</text>
<g id="k50-1"><ellipse class="g" cx="84"/><use href="#L" x="84"/></g><g id="k50-2"><ellipse class="w" cx="136"/><use href="#L" x="136"/></g><g id="k50-3"><ellipse class="w" cx="188"/><use href="#L" x="188"/></g><g id="k50-4"><ellipse class="w" cx="240"/><use href="#L" x="240"/></g><g id="k50-5"><ellipse class="w" cx="292"/><use href="#L" x="292"/></g><g id="k50-6"><ellipse class="w" cx="344"/><use href="#L" x="344"/></g><g id="k50-7"><ellipse class="w" cx="396"/><use href="#L" x="396"/></g></g>
<g id="r51" transform="translate(0,2662)"><path class="gl" d="M26,.5h40M414,.5h39"/><text class="ll" x="21" y="4">51</text><text class="lr" x="463" y="4">51</text>
<g id="k51-1"><ellipse class="g" cx="84"/><use href="#R" x="84"/></g><g id="k51-2"><ellipse class="w" cx="136"/><use href="#R" x="136"/></g><g id="k51-3"><ellipse class="w" cx="188"/><use href="#R" x="188"/></g><g id="k51-4"><ellipse class="w" cx="240"/><use href="#R" x="240"/></g><g id="k51-5"><ellipse class="w" cx="292"/><use href="#R" x="292"/></g><g id="k51-6"><ellipse class="w" cx="344"/><use href="#R" x="344"/></g><g id="k51-7"><ellipse class="w" cx="396"/><use href="#R" x="396"/></g></g>
<g id="r52" transform="translate(0,2714)"><path class="gl" d="M414,.5h39"/><text class="ll" x="21" y="4">52</text><text class="lr" x="463" y="4">52</text>
<g id="k52-1"><ellipse class="g" cx="84"/><use href="#L" x="84"/></g><g id="k52-2"><ellipse class="g" cx="136"/><use href="#L" x="136"/></g><g id="k52-3"><ellipse class="g" cx="188"/><use href="#L" x="188"/></g><g id="k52-4"><ellipse class="g" cx="240"/><use href="#L" x="240"/></g><g id="k52-5"><ellipse class="g" cx="292"/><use href="#L" x="292"/></g><g id="k52-6"><ellipse class="g" cx="344"/><use href="#L" x="344"/></g><g id="k52-7"><ellipse class="w" cx="396"/><use href="#L" x="396"/></g></g>
</g>
<text class="wm" x="240" y="1393">BRACELETBOOK.COM</text>
</svg>
